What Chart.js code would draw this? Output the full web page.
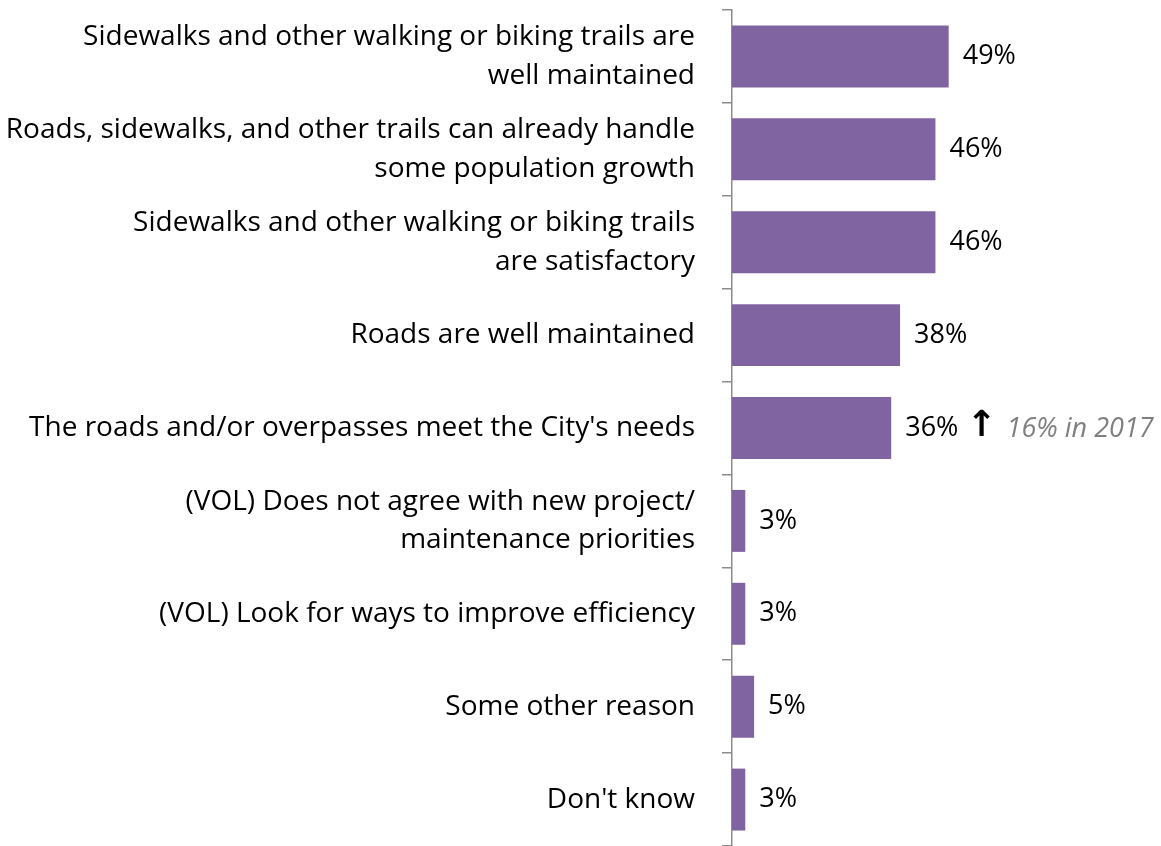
<!DOCTYPE html>
<html><head><meta charset="utf-8">
<script src="https://cdn.jsdelivr.net/npm/chart.js@4"></script>
<style>html,body{margin:0;padding:0;background:#fff}#wrap{width:1161px;height:846px}</style>
</head><body><div id="wrap"><canvas id="c"></canvas></div>
<script>
const categories = [
  ["Sidewalks and other walking or biking trails are", "well maintained"],
  ["Roads, sidewalks, and other trails can already handle", "some population growth"],
  ["Sidewalks and other walking or biking trails", "are satisfactory"],
  "Roads are well maintained",
  "The roads and/or overpasses meet the City's needs",
  ["(VOL) Does not agree with new project/", "maintenance priorities"],
  "(VOL) Look for ways to improve efficiency",
  "Some other reason",
  "Don't know"
];
const values = [49, 46, 46, 38, 36, 3, 3, 5, 3];
const changeArrows = ["", "", "", "", "\u2191", "", "", "", ""];
const changeNotes = ["", "", "", "", "16% in 2017", "", "", "", ""];

const FONT = "'Open Sans', 'DejaVu Sans', sans-serif";

const labelPlugin = {
  id: 'valLabels',
  afterDatasetsDraw(chart) {
    const ctx = chart.ctx;
    const meta = chart.getDatasetMeta(0);
    ctx.save();
    ctx.textBaseline = 'middle';
    ctx.textAlign = 'left';
    meta.data.forEach((bar, i) => {
      let x = bar.x + 14;
      const y = bar.y;
      ctx.font = "27px " + FONT;
      ctx.fillStyle = '#000';
      const t = values[i] + '%';
      ctx.fillText(t, x, y);
      x += ctx.measureText(t).width + 8;
      if (changeArrows[i]) {
        ctx.font = "bold 36px 'DejaVu Sans', sans-serif";
        ctx.fillText(changeArrows[i], x, y - 1);
        x += ctx.measureText(changeArrows[i]).width + 10;
      }
      if (changeNotes[i]) {
        ctx.font = "italic 27px " + FONT;
        ctx.fillStyle = '#808080';
        ctx.fillText(changeNotes[i], x, y + 1);
      }
    });
    ctx.restore();
  }
};

new Chart(document.getElementById('c'), {
  type: 'bar',
  data: {
    labels: categories,
    datasets: [{
      data: values,
      backgroundColor: '#8064A2',
      borderWidth: 0,
      barPercentage: 0.667,
      categoryPercentage: 1
    }]
  },
  plugins: [labelPlugin],
  options: {
    indexAxis: 'y',
    responsive: true,
    maintainAspectRatio: false,
    animation: false,
    layout: { padding: { top: 10, bottom: 0, left: 0, right: 0 } },
    plugins: { legend: { display: false }, tooltip: { enabled: false } },
    scales: {
      x: { display: false, min: 0, max: 97 },
      y: {
        afterFit(scale) { scale.width = 732; scale.paddingTop = 0; scale.paddingBottom = 0; },
        border: { display: true, color: '#8c8c8c', width: 1.5 },
        grid: { display: true, drawOnChartArea: false, drawTicks: true, tickLength: 10, color: '#8c8c8c', lineWidth: 1.5, offset: true },
        ticks: { color: '#000', font: { family: FONT, size: 28, lineHeight: 1.38 }, padding: 27, autoSkip: false }
      }
    }
  }
});
</script></body></html>
